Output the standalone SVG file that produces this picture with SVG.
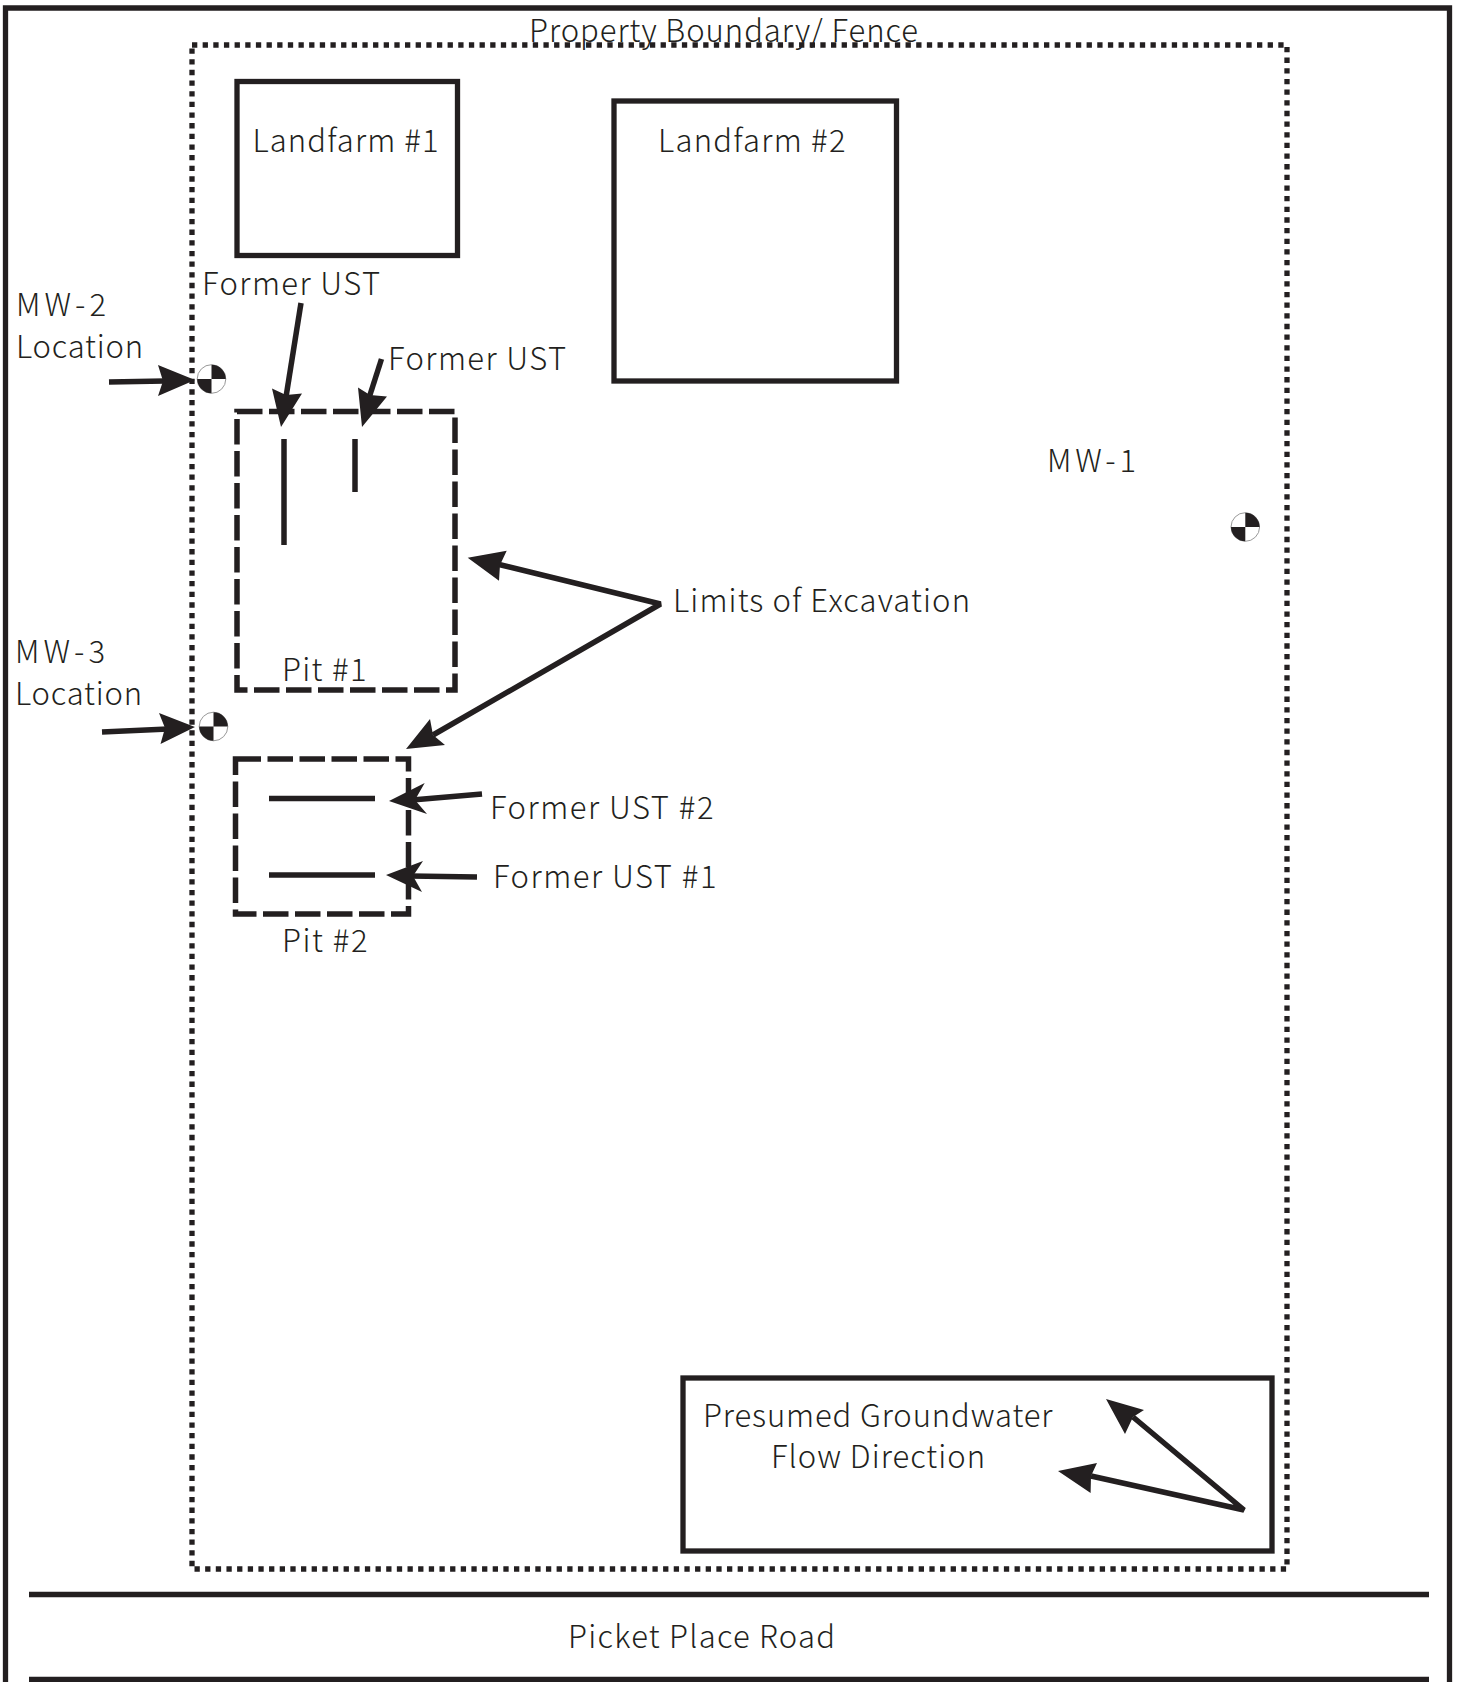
<svg xmlns="http://www.w3.org/2000/svg" width="1457" height="1682" viewBox="0 0 1457 1682">
<style>
text{font-family:"Noto Sans CJK JP","Noto Sans",sans-serif;font-weight:300;font-size:31px;fill:#231f20}
.box{fill:none;stroke:#231f20;stroke-width:5.3}
.dash{fill:none;stroke:#231f20;stroke-width:5.5;stroke-dasharray:25.5 6.5}
.dot{fill:none;stroke:#231f20;stroke-width:5.3;stroke-dasharray:5.3 5.35}
.line{fill:none;stroke:#231f20;stroke-width:5.5}
.head{fill:#231f20;stroke:none}
.road{stroke:#231f20;stroke-width:5.5}
</style>
<defs>
<g id="well"><circle r="14.3" fill="#fff" stroke="#999" stroke-width="1"/><path d="M0 0V-14.3A14.3 14.3 0 0 1 14.3 0ZM0 0V14.3A14.3 14.3 0 0 1 -14.3 0Z" fill="#231f20"/></g>
</defs>
<rect width="1457" height="1682" fill="#fff"/>
<g id="site-border"><path class="box" d="M5.5 1690V8H1449.5V1690"/></g>
<g id="road"><line class="road" x1="29" y1="1594.5" x2="1429" y2="1594.5"/><line class="road" x1="29" y1="1679.5" x2="1429" y2="1679.5"/><text x="568" y="1647.5" textLength="267">Picket Place Road</text></g>
<g id="fence"><rect class="dot" x="192" y="45" width="1095" height="1524"/><text x="529" y="41.5" textLength="389">Property Boundary/ Fence</text></g>
<g id="landfarm-1"><rect class="box" x="237" y="81.5" width="220.5" height="174"/><text x="252.5" y="152" textLength="186">Landfarm #1</text></g>
<g id="landfarm-2"><rect class="box" x="614" y="101" width="282.5" height="280"/><text x="658" y="152" textLength="187.5">Landfarm #2</text></g>
<g id="pit-1"><rect class="dash" x="237" y="411.5" width="218" height="278.5"/><line class="line" x1="284" y1="439" x2="284" y2="545"/><line class="line" x1="355" y1="439" x2="355" y2="492"/><text x="282" y="681" textLength="84.5">Pit #1</text></g>
<g id="pit-2"><rect class="dash" x="235.5" y="759" width="173" height="155"/><line class="line" x1="269" y1="798.5" x2="375" y2="798.5"/><line class="line" x1="269" y1="875" x2="375" y2="875"/><text x="282" y="952" textLength="85.5">Pit #2</text></g>
<g id="mw-1"><use href="#well" x="1245.3" y="527"/><text x="1047" y="472" textLength="89">MW-1</text></g>
<g id="mw-2"><use href="#well" x="211.5" y="379"/><text x="16" y="316" textLength="90">MW-2</text><text x="16" y="357.5" textLength="127">Location</text></g>
<g id="mw-3"><use href="#well" x="213.5" y="726.5"/><text x="15" y="663" textLength="90">MW-3</text><text x="15" y="705" textLength="127">Location</text></g>
<g id="labels">
<text x="202" y="295" textLength="178">Former UST</text>
<text x="388" y="370" textLength="178">Former UST</text>
<text x="673" y="612" textLength="297">Limits of Excavation</text>
<text x="490" y="818.5" textLength="223.5">Former UST #2</text>
<text x="493" y="888" textLength="223.5">Former UST #1</text>
</g>
<g id="flow-legend"><rect class="box" x="683" y="1378" width="589" height="173"/><text x="703" y="1427" textLength="349.5">Presumed Groundwater</text><text x="771" y="1468" textLength="214">Flow Direction</text></g>
<g id="connectors">
<path class="line" d="M109 382L165 381"/><path class="head" d="M195 380L158 365L163 381L158 396Z"/>
<path class="line" d="M102 732L168 729"/><path class="head" d="M195 727L159 713L165 728L160.5 744Z"/>
<path class="line" d="M301 303L286 397"/><path class="head" d="M281 427L272 388.5L286 395L302 393.5Z"/>
<path class="line" d="M381.5 359L369 398"/><path class="head" d="M362 427L358 387.5L370 395L387 396.5Z"/>
<path class="line" d="M482 794L412 800"/><path class="head" d="M389 801L424.7 783L415 800L427 814Z"/>
<path class="line" d="M477 877L410 876"/><path class="head" d="M386 875L423 861L413 876L422 892Z"/>
<path class="line" stroke-linejoin="bevel" d="M497 564L660.5 604L433 735"/>
<path class="head" d="M467.7 557.7L506.7 550.7L500 565L499 580.7Z"/><path class="head" d="M406 749L430 719L433 735L445 745Z"/>
<path class="line" stroke-linejoin="bevel" d="M1133 1417L1244 1510L1091 1476"/>
<path class="head" d="M1106 1399L1144 1410L1133 1417L1125 1434Z"/><path class="head" d="M1058 1471L1097 1463L1091 1476L1090.6 1493Z"/>
</g>
</svg>
